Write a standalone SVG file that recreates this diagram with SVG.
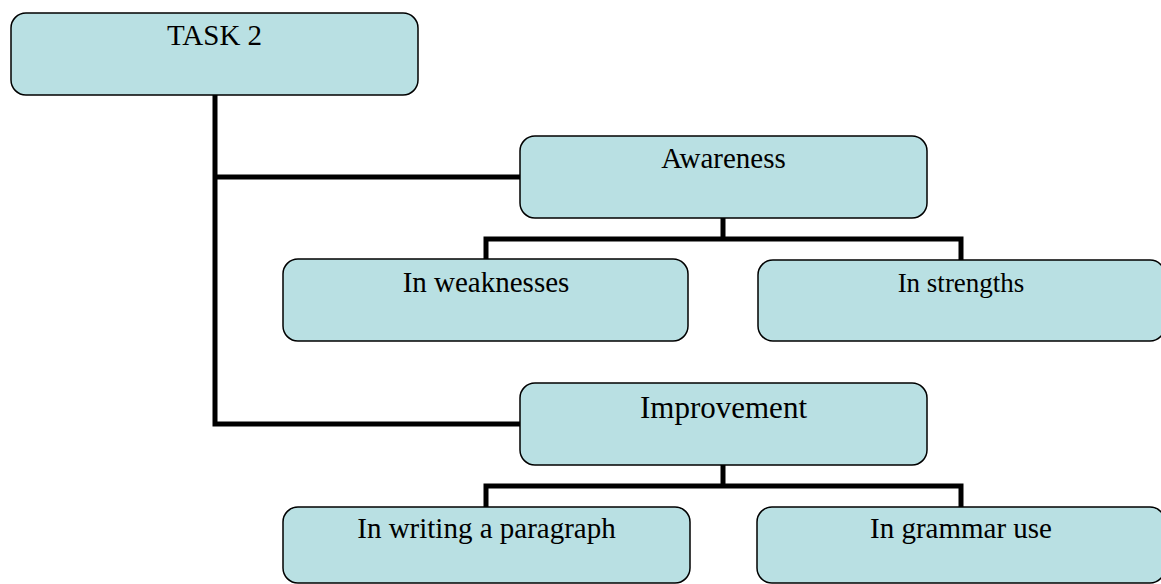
<svg xmlns="http://www.w3.org/2000/svg" width="1161" height="584" viewBox="0 0 1161 584">
<style>
.box{fill:#B9E0E3;stroke:#000;stroke-width:1.5}
.lbl{font-family:"Liberation Serif","Times New Roman",serif;font-size:29px;fill:#000;text-anchor:middle}
.con{fill:none;stroke:#000;stroke-width:5;stroke-linejoin:miter;stroke-linecap:butt}
</style>
<rect width="1161" height="584" fill="#fff"/>
<g id="connectors">
<path class="con" d="M215 95 V424 H520"/>
<path class="con" d="M215 177 H520"/>
<path class="con" d="M723 218 V239"/>
<path class="con" d="M486 260 V239 H961 V260"/>
<path class="con" d="M723 465 V486"/>
<path class="con" d="M486 507 V486 H961 V507"/>
</g>
<g id="task2"><rect class="box" x="11" y="13" width="407" height="82" rx="15"/><text class="lbl" x="214.5" y="45">TASK 2</text></g>
<g id="awareness"><rect class="box" x="520" y="136" width="407" height="82" rx="15"/><text class="lbl" x="723.5" y="168">Awareness</text></g>
<g id="weaknesses"><rect class="box" x="283" y="259" width="405" height="82" rx="15"/><text class="lbl" x="486" y="292">In weaknesses</text></g>
<g id="strengths"><rect class="box" x="758" y="260" width="407" height="81" rx="15"/><text class="lbl" x="961" y="292" style="font-size:27px">In strengths</text></g>
<g id="improvement"><rect class="box" x="520" y="383" width="407" height="82" rx="15"/><text class="lbl" x="723.5" y="418" style="font-size:31px">Improvement</text></g>
<g id="paragraph"><rect class="box" x="283" y="507" width="407" height="76" rx="15"/><text class="lbl" x="486.5" y="538">In writing a paragraph</text></g>
<g id="grammar"><rect class="box" x="757" y="507" width="408" height="76" rx="15"/><text class="lbl" x="961" y="538">In grammar use</text></g>
</svg>
